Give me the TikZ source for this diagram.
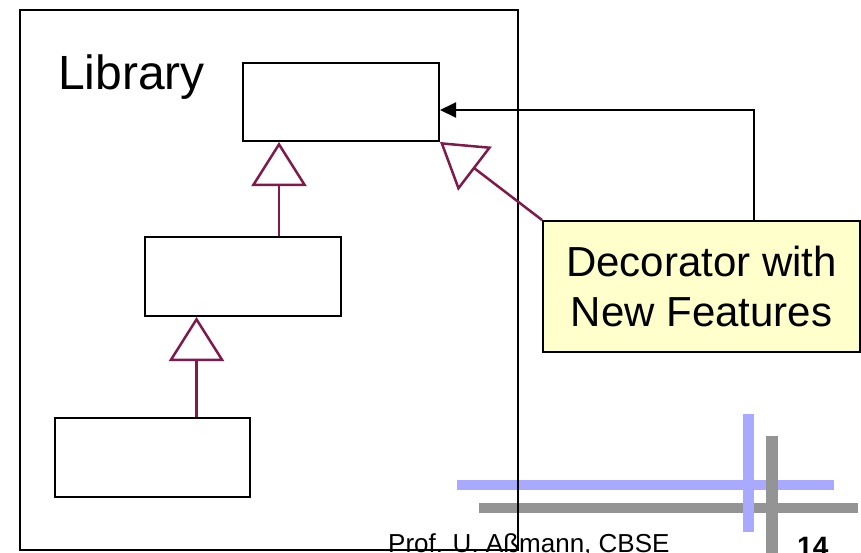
\documentclass[tikz,border=0pt]{standalone}
\usepackage{fontspec}
\setmainfont{Liberation Sans}
\usetikzlibrary{arrows.meta}
\definecolor{inhcol}{HTML}{7F1A4A}
\definecolor{barblue}{HTML}{A9A9FF}
\definecolor{bargray}{HTML}{949494}
\definecolor{noteyellow}{HTML}{FFFFCC}
\begin{document}
\begin{tikzpicture}[x=1pt,y=-1pt,
  classbox/.style={draw=black,line width=2pt,minimum width=196pt,minimum height=79pt,inner sep=0pt},
  inh/.style={draw=inhcol,line width=2.5pt,-{Triangle[open,length=44pt,width=55pt]}},
  assoc/.style={draw=black,line width=2pt,-{Triangle[length=16pt,width=15pt]}},
  bigtext/.style={font=\fontsize{48}{56}\selectfont},
  notetext/.style={font=\fontsize{42}{50}\selectfont},
  bar/.style={line width=10pt}
]
\useasboundingbox (0,0) rectangle (861,552);
\fill[white] (0,0) rectangle (861,552);
% decorative bars
\draw[bar,barblue] (457,484.5) -- (834,484.5);
\draw[bar,bargray] (479,507.5) -- (858,507.5);
\draw[bar,barblue,line width=11pt] (748.5,414) -- (748.5,532);
\draw[bar,bargray,line width=12pt] (772,436) -- (772,560);
% library container
\node[draw=black,line width=2pt,minimum width=498pt,minimum height=540pt,inner sep=0pt] (lib) at (269,280) {};
\node[bigtext,anchor=base west,inner sep=0pt] (libl) at (58,89) {Library};
% classes
\node[classbox,minimum height=78pt] (boxA) at (341,102) {};
\node[classbox] (boxB) at (243,276.5) {};
\node[classbox,minimum width=195pt] (boxC) at (152.5,457.5) {};
% decorator
\node[draw=black,line width=2pt,fill=noteyellow,minimum width=317pt,minimum height=131pt,inner sep=0pt,
      notetext,align=center] (dec) at (701.5,286.5) {Decorator with\\New Features};
% inheritance
\draw[inh] ([xshift=36pt]boxB.north) -- ([xshift=-62pt]boxA.south);
\draw[inh] ([xshift=44pt]boxC.north) -- ([xshift=-46.5pt]boxB.south);
\draw[inh] (dec.north west) -- (boxA.south east);
% association
\draw[assoc] ([xshift=52pt]dec.north) |- ([yshift=-8pt]boxA.east);
% footer
\node[anchor=base west,inner sep=0pt,font=\fontsize{26}{30}\selectfont] (prof) at (388,552) {Prof. U. Aßmann, CBSE};
\node[anchor=base west,inner sep=0pt,font=\fontsize{28}{32}\selectfont\bfseries] (pnum) at (797,556) {14};
\end{tikzpicture}
\end{document}
